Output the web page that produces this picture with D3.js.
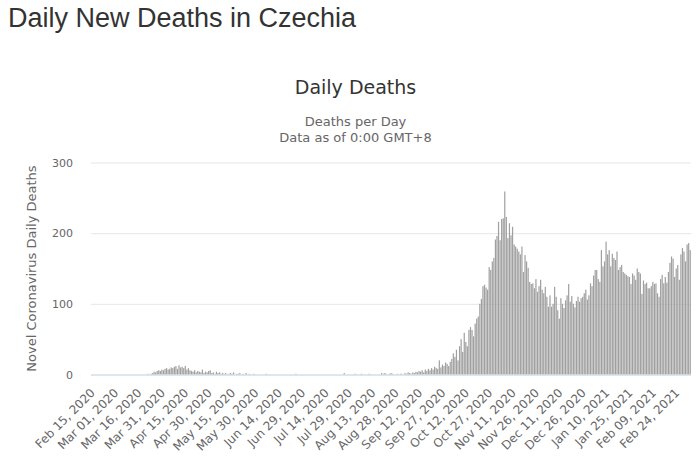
<!DOCTYPE html>
<html><head><meta charset="utf-8">
<script src="https://cdn.jsdelivr.net/npm/d3@7/dist/d3.min.js"></script>
<style>
html,body{margin:0;padding:0;background:#fff;}
svg{display:block;}
</style></head>
<body>
<svg id="c" width="700" height="468"></svg>
<script>
// ---- DATA ----
const startDate = "2020-02-15";
const febMar2020 = [0,0,0,0,0,0,0,0,0,0,0,0,0,0,0,
  0,0,0,0,0,0,0,0,0,0,0,0,0,0,0,0,0,0,0,0,0,1,0,1,2,4,3,5,6,5,7];
const apr2020 = [6,8,9,7,8,10,9,11,12,8,13,10,11,9,12,7,9,6,5,4,6,3,5,4,3,7,2,4,3,5];
const may2020 = [6,2,3,1,4,2,3,1,2,1,2,0,1,2,1,3,0,1,1,2,0,1,0,2,0,1,0,0,1,0,0];
const jun2020 = [0,0,0,0,0,1,0,0,0,0,0,0,0,0,0,0,0,0,0,0,0,0,0,0,1,0,0,0,0,0];
const jul2020 = [0,0,0,0,0,0,0,0,0,0,0,0,0,0,0,0,0,0,0,0,0,0,0,0,0,2,0,0,0,0,0];
const aug2020 = [0,1,0,0,0,1,0,0,0,0,1,0,0,0,0,0,0,0,2,1,2,1,0,1,2,1,0,0,1,0,1];
const sep2020 = [1,0,2,1,3,2,1,3,2,4,3,5,4,6,3,7,5,8,6,9,7,11,9,8,20,10,14,12,17,15];
const oct2020 = [12,18,22,30,25,35,20,40,50,32,59,46,40,63,67,63,54,72,79,82,100,107,125,127,123,120,152,148,160,165,191];
const nov2020 = [196,216,190,220,221,259,223,193,214,197,209,184,181,178,174,170,181,145,169,160,151,131,128,129,122,135,117,125,134,120];
const dec2020 = [115,124,110,96,112,96,100,124,110,91,79,108,100,94,105,112,128,103,111,100,95,104,110,103,108,110,115,120,106,112,129];
const jan2021 = [125,140,148,148,135,131,176,153,160,188,170,176,153,171,165,162,174,148,152,155,145,143,141,139,138,128,143,140,134,150,145];
const feb2021 = [143,114,133,128,130,122,122,125,131,128,129,115,110,135,141,129,138,130,145,158,167,164,138,150,155,134,170,179];
const mar2021 = [174,160,184,186,176];
const deaths = [].concat(febMar2020, apr2020, may2020, jun2020, jul2020, aug2020, sep2020, oct2020, nov2020, dec2020, jan2021, feb2021, mar2021);
const tickLabels = ["Feb 15, 2020","Mar 01, 2020","Mar 16, 2020","Mar 31, 2020","Apr 15, 2020","Apr 30, 2020","May 15, 2020","May 30, 2020","Jun 14, 2020","Jun 29, 2020","Jul 14, 2020","Jul 29, 2020","Aug 13, 2020","Aug 28, 2020","Sep 12, 2020","Sep 27, 2020","Oct 12, 2020","Oct 27, 2020","Nov 11, 2020","Nov 26, 2020","Dec 11, 2020","Dec 26, 2020","Jan 10, 2021","Jan 25, 2021","Feb 09, 2021","Feb 24, 2021"];
const yTicks = [0,100,200,300];

// categories
const fmt = d3.timeFormat("%b %d, %Y");
const start = d3.timeParse("%Y-%m-%d")(startDate);
const categories = deaths.map((v,i)=>fmt(d3.timeDay.offset(start,i)));
const data = categories.map((c,i)=>({cat:c, v:deaths[i]}));

// ---- CHART ----
const svg = d3.select("#c");
const L = 91, R = 691, T = 162.5, B = 374.5;
const x = d3.scaleBand().domain(categories).range([L,R]).paddingInner(0.22).paddingOuter(0.1);
const y = d3.scaleLinear().domain([0,300]).range([B,T]);
const font = "'DejaVu Sans', Verdana, sans-serif";

svg.append("text").attr("x",8).attr("y",27)
  .attr("font-family","'Liberation Sans', Arial, sans-serif").attr("font-size",27)
  .attr("fill","#333").text("Daily New Deaths in Czechia");

svg.append("text").attr("x",355.5).attr("y",93.5).attr("text-anchor","middle")
  .attr("font-family",font).attr("font-size",19).attr("fill","#333").text("Daily Deaths");
svg.append("text").attr("x",355.5).attr("y",126).attr("text-anchor","middle")
  .attr("font-family",font).attr("font-size",13).attr("fill","#666").text("Deaths per Day");
svg.append("text").attr("x",355.5).attr("y",142).attr("text-anchor","middle")
  .attr("font-family",font).attr("font-size",13).attr("fill","#666").text("Data as of 0:00 GMT+8");

// grid + y labels
const yAxis = svg.append("g").attr("transform",`translate(${L},0)`)
  .call(d3.axisLeft(y).tickValues(yTicks).tickSize(-(R-L)).tickPadding(18));
yAxis.select(".domain").remove();
yAxis.selectAll(".tick line").attr("stroke","#e6e6e6");
yAxis.selectAll(".tick text").attr("font-family",font).attr("font-size",11).attr("fill","#666");

svg.append("text").attr("transform",`translate(36,${(T+B)/2}) rotate(-90)`)
  .attr("text-anchor","middle").attr("font-family",font).attr("font-size",13)
  .attr("fill","#666").text("Novel Coronavirus Daily Deaths");

// bars
svg.append("g").selectAll("rect").data(data).join("rect")
  .attr("x",d=>x(d.cat)).attr("width",x.bandwidth())
  .attr("y",d=>y(d.v)).attr("height",d=>B-y(d.v))
  .attr("fill","#a0a0a0");

// x axis
const xAxis = svg.append("g").attr("transform",`translate(0,${B})`)
  .call(d3.axisBottom(x).tickValues(tickLabels).tickSize(0).tickPadding(0));
xAxis.select(".domain").attr("stroke","#ccd6eb").attr("d",`M${L},0.5H${R}`);
xAxis.selectAll(".tick text")
  .attr("font-family",font).attr("font-size",12).attr("fill","#666")
  .attr("text-anchor","end").attr("dy",0)
  .attr("transform","translate(4,19) rotate(-45)");
</script>
</body></html>
